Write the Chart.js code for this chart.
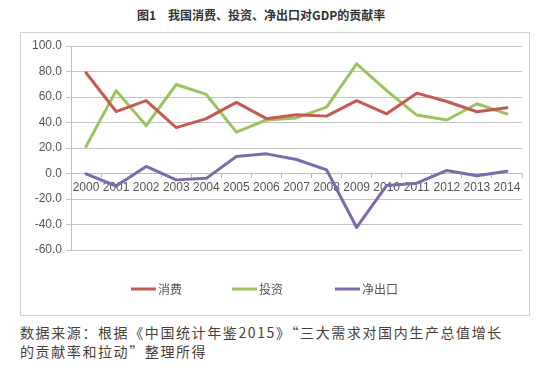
<!DOCTYPE html>
<html><head><meta charset="utf-8">
<script src="https://cdn.jsdelivr.net/npm/chart.js@4/dist/chart.umd.min.js"></script>
<style>
html,body{margin:0;padding:0;background:#fff;width:550px;height:374px;overflow:hidden;position:relative;}
#title{position:absolute;left:137px;top:6px;font-family:"Noto Sans CJK SC",sans-serif;font-weight:bold;font-size:12px;color:#333;white-space:nowrap;line-height:18px;}
#box{position:absolute;left:20px;top:32px;width:508px;height:282px;border:1.5px solid #cfcfcf;}
#wrap{position:absolute;left:21px;top:33px;width:508px;height:282px;}
.note{position:absolute;left:20px;font-family:"Noto Sans CJK SC",serif;font-size:14px;letter-spacing:1.6px;color:#4a3f38;white-space:nowrap;line-height:19px;}
</style></head>
<body>
<div id="title">图1　我国消费、投资、净出口对GDP的贡献率</div>
<div id="box"></div>
<div id="wrap"><canvas id="c" width="508" height="282"></canvas></div>
<div class="note" style="top:323px">数据来源：根据《中国统计年鉴2015》“三大需求对国内生产总值增长</div>
<div class="note" style="top:342px">的贡献率和拉动”整理所得</div>
<script>
const years = ['2000','2001','2002','2003','2004','2005','2006','2007','2008','2009','2010','2011','2012','2013','2014'];
const consumption = [79.0, 48.6, 57.2, 36.0, 43.0, 55.8, 43.0, 46.0, 45.0, 57.2, 46.8, 63.0, 56.5, 48.4, 51.6];
const investment = [21.2, 65.0, 37.6, 69.8, 62.0, 32.4, 42.0, 43.6, 52.0, 86.0, 65.0, 45.8, 42.0, 54.7, 46.8];
const netExport = [-0.3, -9.8, 5.5, -5.0, -3.8, 13.3, 15.4, 11.0, 2.9, -42.3, -9.4, -7.6, 2.4, -1.8, 1.8];
const seriesNames = ['消费', '投资', '净出口'];
const seriesColors = ['#c55a55', '#9cc35f', '#7e69ab'];

const legendPlugin = {
  id: 'customLegend',
  afterDraw(chart) {
    const ctx = chart.ctx;
    const xs = [110, 211, 314];
    const y = 256;
    ctx.save();
    ctx.font = '12px "Noto Sans CJK SC", sans-serif';
    ctx.textBaseline = 'middle';
    chart.data.datasets.forEach((ds, i) => {
      ctx.strokeStyle = ds.borderColor;
      ctx.lineWidth = 3;
      ctx.beginPath();
      ctx.moveTo(xs[i], y);
      ctx.lineTo(xs[i] + 25, y);
      ctx.stroke();
      ctx.fillStyle = '#555';
      ctx.fillText(ds.label, xs[i] + 27, y);
    });
    ctx.restore();
  }
};

const mk = (i, data) => ({
  label: seriesNames[i], data, borderColor: seriesColors[i], backgroundColor: seriesColors[i],
  borderWidth: 3, pointRadius: 0, tension: 0, borderJoinStyle: 'round', borderCapStyle: 'round'
});

new Chart(document.getElementById('c'), {
  type: 'line',
  data: { labels: years, datasets: [mk(0, consumption), mk(1, investment), mk(2, netExport)] },
  options: {
    responsive: false, animation: false,
    layout: { padding: { left: 0, right: 7, top: 13, bottom: 65 } },
    plugins: { legend: { display: false }, tooltip: { enabled: false } },
    scales: {
      x: {
        position: { y: 0 },
        offset: true,
        grid: { display: true, drawOnChartArea: false, offset: true, tickLength: 4, color: '#bdbdbd' },
        border: { display: true, color: '#bdbdbd' },
        ticks: { color: '#555', font: { family: 'Liberation Sans', size: 12 }, padding: 3, maxRotation: 0, autoSkip: false }
      },
      y: {
        min: -60, max: 100,
        afterFit(s) { s.width = 50; },
        grid: { color: '#c4c4c4', tickLength: 5 },
        border: { display: true, color: '#bdbdbd' },
        ticks: { stepSize: 20, color: '#555', font: { family: 'Liberation Sans', size: 12 }, padding: 4,
                 callback: v => Number(v).toFixed(1) }
      }
    }
  },
  plugins: [legendPlugin]
});
</script>
</body></html>
